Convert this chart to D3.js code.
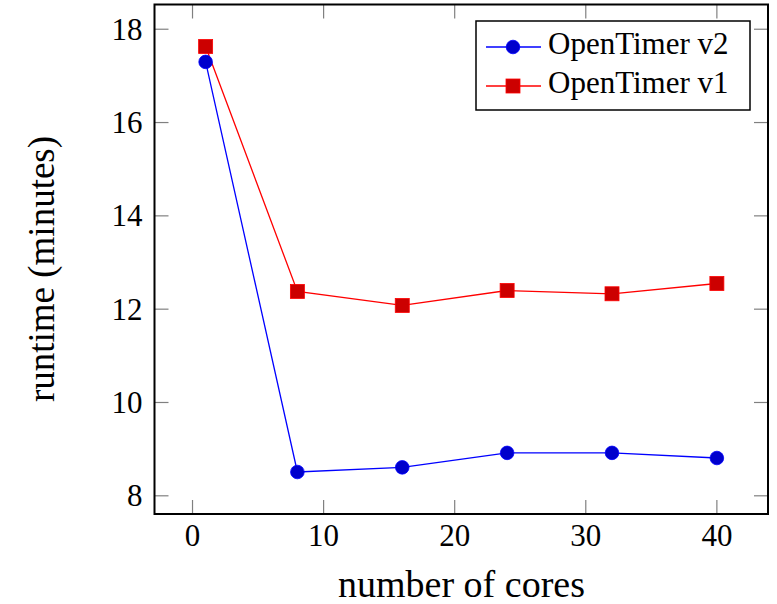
<!DOCTYPE html>
<html>
<head>
<meta charset="utf-8">
<script src="https://cdn.jsdelivr.net/npm/d3@7"></script>
<style>
  body { margin: 0; background: #fff; }
</style>
</head>
<body>
<script>
const WIDTH = 777
const HEIGHT = 604
const FONT = "'Liberation Serif', 'Times New Roman', 'DejaVu Serif', serif"

// Data
const cores = [1, 8, 16, 24, 32, 40]
const v2 = [17.3, 8.51, 8.61, 8.92, 8.92, 8.81]
const v1 = [17.63, 12.38, 12.08, 12.4, 12.33, 12.55]
const xTicks = [0, 10, 20, 30, 40]
const yTicks = [8, 10, 12, 14, 16, 18]
const seriesNames = ["OpenTimer v2", "OpenTimer v1"]

// Constants
const margin = { top: 4.5, right: 9, bottom: 90, left: 154.5 }
const tickLen = 14
const sq = 14

const x = d3.scaleLinear([-2.9, 43.9], [margin.left, WIDTH - margin.right])
const y = d3.scaleLinear([7.61, 18.53], [HEIGHT - margin.bottom, margin.top])

const svg = d3.select("body").append("svg")
  .attr("width", WIDTH)
  .attr("height", HEIGHT)
  .attr("font-family", FONT)
  .style("font-family", FONT)

const x0 = margin.left, x1 = WIDTH - margin.right
const y0 = HEIGHT - margin.bottom, y1 = margin.top

// Ticks (inward, all four sides)
const ticks = svg.append("g")
  .attr("stroke", "#808080")
  .attr("stroke-width", 1.2)

ticks.selectAll(".xb").data(xTicks).join("line")
  .attr("x1", d => x(d)).attr("x2", d => x(d))
  .attr("y1", y0).attr("y2", y0 - tickLen)
ticks.selectAll(".xt").data(xTicks).join("line")
  .attr("x1", d => x(d)).attr("x2", d => x(d))
  .attr("y1", y1).attr("y2", y1 + tickLen)
ticks.selectAll(".yl").data(yTicks).join("line")
  .attr("x1", x0).attr("x2", x0 + tickLen)
  .attr("y1", d => y(d)).attr("y2", d => y(d))
ticks.selectAll(".yr").data(yTicks).join("line")
  .attr("x1", x1).attr("x2", x1 - tickLen)
  .attr("y1", d => y(d)).attr("y2", d => y(d))

// Tick labels
svg.append("g")
  .attr("font-size", 31)
  .attr("text-anchor", "middle")
  .selectAll("text").data(xTicks).join("text")
    .attr("x", d => x(d))
    .attr("y", y0 + 32)
    .text(d => d)

svg.append("g")
  .attr("font-size", 31)
  .attr("text-anchor", "end")
  .selectAll("text").data(yTicks).join("text")
    .attr("x", x0 - 12)
    .attr("y", d => y(d) + 10.5)
    .text(d => d)

// Axis labels
svg.append("text")
  .attr("x", 461.5)
  .attr("y", 596.5)
  .attr("text-anchor", "middle")
  .attr("font-size", 38)
  .text("number of cores")

svg.append("text")
  .attr("transform", `translate(54,269) rotate(-90)`)
  .attr("text-anchor", "middle")
  .attr("font-size", 37)
  .text("runtime (minutes)")

// Lines
const line = d3.line().x((d, i) => x(cores[i])).y(d => y(d))

svg.append("path").datum(v2)
  .attr("fill", "none").attr("stroke", "#0000ff").attr("stroke-width", 1.3)
  .attr("d", line)
svg.append("path").datum(v1)
  .attr("fill", "none").attr("stroke", "#ff0000").attr("stroke-width", 1.3)
  .attr("d", line)

// Markers
svg.append("g").selectAll("circle").data(v2).join("circle")
  .attr("cx", (d, i) => x(cores[i]))
  .attr("cy", d => y(d))
  .attr("r", 6.8)
  .attr("fill", "#0000cc")
  .attr("stroke", "#0000ff")
  .attr("stroke-width", 0.8)

svg.append("g").selectAll("rect").data(v1).join("rect")
  .attr("x", (d, i) => x(cores[i]) - sq / 2)
  .attr("y", d => y(d) - sq / 2)
  .attr("width", sq).attr("height", sq)
  .attr("fill", "#cc0000")
  .attr("stroke", "#ff0000")
  .attr("stroke-width", 0.8)

// Frame
svg.append("rect")
  .attr("x", x0).attr("y", y1)
  .attr("width", x1 - x0).attr("height", y0 - y1)
  .attr("fill", "none")
  .attr("stroke", "#000")
  .attr("stroke-width", 2)

// Legend
const legend = svg.append("g").attr("transform", "translate(476,21)")
legend.append("rect")
  .attr("width", 274).attr("height", 89)
  .attr("fill", "#fff").attr("stroke", "#000").attr("stroke-width", 1.5)

const colors = [["#0000ff", "#0000cc"], ["#ff0000", "#cc0000"]]
seriesNames.forEach((name, i) => {
  const cy = 26 + i * 39
  const g = legend.append("g").attr("transform", `translate(0,${cy})`)
  g.append("line")
    .attr("x1", 10).attr("x2", 65)
    .attr("stroke", colors[i][0]).attr("stroke-width", 1.3)
  if (i === 0) {
    g.append("circle").attr("cx", 37).attr("r", 6.8)
      .attr("fill", colors[i][1]).attr("stroke", colors[i][0]).attr("stroke-width", 0.8)
  } else {
    g.append("rect").attr("x", 37 - sq / 2).attr("y", -sq / 2)
      .attr("width", sq).attr("height", sq)
      .attr("fill", colors[i][1]).attr("stroke", colors[i][0]).attr("stroke-width", 0.8)
  }
  g.append("text")
    .attr("x", 72).attr("y", 7)
    .attr("font-size", 31)
    .text(name)
})
</script>
</body>
</html>
